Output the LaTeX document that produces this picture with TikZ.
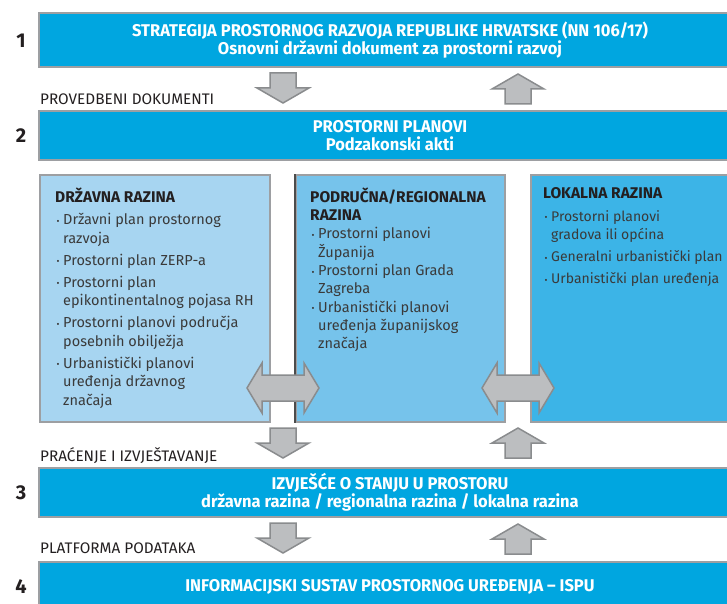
\documentclass[tikz,border=0pt]{standalone}
\usepackage{fontspec}
\setmainfont{Fira Sans}
\newfontfamily\condf{Fira Sans}[FakeStretch=0.97]
\definecolor{boxblue}{HTML}{00A6E0}
\definecolor{colA}{HTML}{A7D5F1}
\definecolor{colB}{HTML}{76C3EB}
\definecolor{colC}{HTML}{3CB4E7}
\definecolor{bgray}{HTML}{9D9FA2}
\definecolor{afill}{HTML}{BCBEC0}
\definecolor{adraw}{HTML}{8A8C8E}
\definecolor{tdark}{HTML}{231F20}
\definecolor{tbody}{HTML}{3A3A3A}
\newcommand\bul{\hspace*{1.5pt}\makebox[6.5pt][l]{\raisebox{0.5pt}{\fontsize{9}{9}\selectfont •}}}
\newcommand\ind{\hspace*{8pt}}
\newcommand\colhead[1]{{\bfseries\color{tdark}\fontsize{15.5}{18.5}\selectfont #1}}
\tikzset{
  bigbox/.style={draw=bgray, line width=2pt, fill=boxblue, text=white, align=center,
    font=\condf\bfseries\fontsize{17}{18.5}\selectfont, inner sep=0pt},
  colbox/.style={draw=bgray, line width=2pt, anchor=north west, inner sep=0pt},
  coltext/.style={anchor=north west, inner sep=0pt, align=left, text=tbody,
    font=\fontsize{14.5}{18.5}\selectfont},
  sidelabel/.style={anchor=base west, inner sep=0pt, text=tdark,
    font=\fontsize{15.3}{16}\selectfont},
  numlabel/.style={inner sep=0pt, text=tdark, font=\bfseries\fontsize{20}{20}\selectfont},
  blockarrow/.style={fill=afill, draw=adraw, line width=1.5pt, line join=miter},
  downarr/.pic={\draw[blockarrow] (-13,-15) -- (13,-15) -- (13,0) -- (26,0) -- (0,15) -- (-26,0) -- (-13,0) -- cycle;},
  uparr/.pic={\draw[blockarrow] (-13,15) -- (13,15) -- (13,0) -- (26,0) -- (0,-15) -- (-26,0) -- (-13,0) -- cycle;},
  dblarr/.pic={\draw[blockarrow] (-36,0) -- (-21,-25) -- (-21,-13) -- (21,-13) -- (21,-25) -- (36,0) -- (21,25) -- (21,13) -- (-21,13) -- (-21,25) -- cycle;}
}
\begin{document}
\begin{tikzpicture}[x=1pt,y=-1pt]
\useasboundingbox (0,0) rectangle (727,604);
\fill[white] (0,0) rectangle (727,604);
\clip (0,0) rectangle (727,604);

% numbers
\node[numlabel] (n1) at (21,41) {1};
\node[numlabel] (n2) at (21,136) {2};
\node[numlabel] (n3) at (21,493) {3};
\node[numlabel] (n4) at (21,587) {4};

% main boxes
\node[bigbox, minimum width=702pt, minimum height=54pt] (b1) at (390,40)
  {STRATEGIJA PROSTORNOG RAZVOJA REPUBLIKE HRVATSKE (NN 106/17)\\Osnovni državni dokument za prostorni razvoj};
\node[bigbox, minimum width=702pt, minimum height=49pt] (b2) at (390,135.5)
  {PROSTORNI PLANOVI\\Podzakonski akti};
\node[bigbox, minimum width=702pt, minimum height=49pt] (b3) at (390,492.5)
  {IZVJEŠĆE O STANJU U PROSTORU\\državna razina / regionalna razina / lokalna razina};
\node[bigbox, minimum width=702pt, minimum height=50pt] (b4) at (390,587)
  {INFORMACIJSKI SUSTAV PROSTORNOG UREĐENJA – ISPU};

% side labels
\node[sidelabel] (l1) at (40,105) {PROVEDBENI DOKUMENTI};
\node[sidelabel] (l2) at (40,461) {PRAĆENJE I IZVJEŠTAVANJE};
\node[sidelabel] (l3) at (40,553) {PLATFORMA PODATAKA};

% columns
\node[colbox, fill=colA, minimum width=230pt, minimum height=247pt] (c1) at (39,174) {};
\node[colbox, fill=colB, minimum width=209pt, minimum height=247pt] (c2) at (295,174) {};
\node[colbox, fill=colC, minimum width=215pt, minimum height=247pt] (c3) at (530,174) {};
\draw[draw=black!70, line width=1.5pt] (c2.north west) -- (c2.south west);

\node[coltext] (t1) at (55,187.5) {%
  \colhead{DRŽAVNA RAZINA}\\[4pt]
  \bul Državni plan prostornog\\
  \ind razvoja\\[3.5pt]
  \bul Prostorni plan ZERP-a\\[3.5pt]
  \bul Prostorni plan\\
  \ind epikontinentalnog pojasa RH\\[3.5pt]
  \bul Prostorni planovi područja\\
  \ind posebnih obilježja\\[3.5pt]
  \bul Urbanistički planovi\\
  \ind uređenja državnog\\
  \ind značaja};
\node[coltext, font=\fontsize{14.5}{18.3}\selectfont] (t2) at (310,187.5) {%
  \colhead{PODRUČNA/REGIONALNA}\\
  \colhead{RAZINA}\\
  \bul Prostorni planovi\\
  \ind Županija\\
  \bul Prostorni plan Grada\\
  \ind Zagreba\\
  \bul Urbanistički planovi\\
  \ind uređenja županijskog\\
  \ind značaja};
\node[coltext, font=\fontsize{14}{18.5}\selectfont] (t3) at (543,187.5) {%
  \colhead{LOKALNA RAZINA}\\[4pt]
  \bul Prostorni planovi\\
  \ind gradova ili općina\\[3.5pt]
  \bul Generalni urbanistički plan\\[3.5pt]
  \bul Urbanistički plan uređenja};

% arrows
\pic at (283,88) {downarr};
\pic at (518,89) {uparr};
\pic at (283,388) {dblarr};
\pic at (518,388) {dblarr};
\pic at (283,443) {downarr};
\pic at (518,443) {uparr};
\pic at (283,538) {downarr};
\pic at (518,539) {uparr};
\end{tikzpicture}
\end{document}
